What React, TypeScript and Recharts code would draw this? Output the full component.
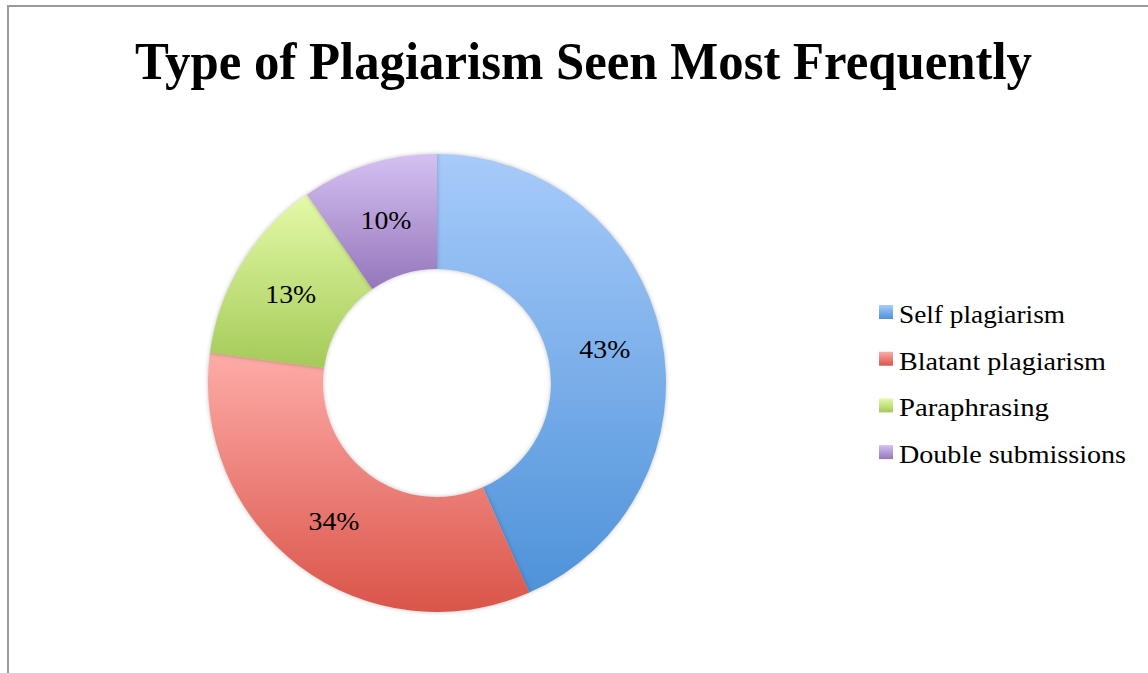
import { PieChart, Pie, Cell, Legend } from 'recharts'

const categories = ['Self plagiarism', 'Blatant plagiarism', 'Paraphrasing', 'Double submissions']
// slice sizes (labels show them rounded)
const shares = [43.4, 33.7, 13.3, 9.6]

// light top -> dark bottom, like the Excel gradient fill
const GRADIENTS = [
  { id: 'gSelf', top: '#a7cbfa', bottom: '#4e92d9' },
  { id: 'gBlatant', top: '#fdaca8', bottom: '#da5449' },
  { id: 'gPara', top: '#e4faa8', bottom: '#a5ca58' },
  { id: 'gDouble', top: '#d4c1f1', bottom: '#9576bb' },
]

const data = categories.map((name, i) => ({ name, value: shares[i] }))

const SERIF = '"Liberation Serif", "DejaVu Serif", serif'
const RAD = Math.PI / 180

const LEGEND_WIDTHS = [166, 207, 150, 227]

function renderLabel(props: any) {
  const { cx, cy, midAngle, innerRadius, outerRadius, percent } = props
  const r = (innerRadius + outerRadius) / 2
  const x = cx + r * Math.cos(-midAngle * RAD)
  const y = cy + r * Math.sin(-midAngle * RAD)
  return (
    <text
      x={x}
      y={y + 10}
      textAnchor="middle"
      fontFamily={SERIF}
      fontSize={26}
      fill="#000"
      textLength={51}
      lengthAdjust="spacingAndGlyphs"
    >
      {`${Math.round(percent * 100)}%`}
    </text>
  )
}

function LegendContent() {
  return (
    <svg width={270} height={190} style={{ display: 'block' }}>
      {categories.map((name, i) => (
        <g key={name}>
          <rect x={9} y={10 + i * 46.7} width={14} height={14} fill={`url(#${GRADIENTS[i].id})`} />
          <text
            x={29}
            y={28 + i * 46.7}
            fontFamily={SERIF}
            fontSize={25}
            fill="#000"
            textLength={LEGEND_WIDTHS[i]}
            lengthAdjust="spacingAndGlyphs"
          >
            {name}
          </text>
        </g>
      ))}
    </svg>
  )
}

export default function App() {
  return (
    <div style={{ position: 'absolute', left: 0, top: 0, width: 1148, height: 673, background: '#fff', overflow: 'hidden' }}>
      <svg width={0} height={0} style={{ position: 'absolute' }}>
        <defs>
          {GRADIENTS.map((g) => (
            <linearGradient key={g.id} id={g.id} x1="0" y1="0" x2="0" y2="1">
              <stop offset="0%" stopColor={g.top} />
              <stop offset="100%" stopColor={g.bottom} />
            </linearGradient>
          ))}
        </defs>
      </svg>
      <div style={{ position: 'absolute', left: 7, top: 5, width: 1141, height: 2, background: '#9a9a9a' }} />
      <div style={{ position: 'absolute', left: 7, top: 5, width: 2, height: 668, background: '#9a9a9a' }} />
      <svg width={1148} height={110} style={{ position: 'absolute', left: 0, top: 0 }}>
        <text
          x={583.5}
          y={79}
          textAnchor="middle"
          fontFamily={SERIF}
          fontWeight="bold"
          fontSize={52}
          fill="#000"
          textLength={897}
          lengthAdjust="spacingAndGlyphs"
        >
          Type of Plagiarism Seen Most Frequently
        </text>
      </svg>
      <div style={{ position: 'absolute', left: 0, top: 0 }}>
        <PieChart width={1148} height={673} margin={{ top: 0, right: 0, bottom: 0, left: 0 }}>
          <Pie
            data={data}
            dataKey="value"
            nameKey="name"
            cx={437}
            cy={383}
            innerRadius={114}
            outerRadius={229}
            startAngle={90}
            endAngle={-270}
            stroke="none"
            label={renderLabel}
            labelLine={false}
            isAnimationActive={false}
            style={{ filter: 'drop-shadow(0px 0px 2px rgba(0,0,0,0.25))' }}
          >
            {data.map((_, i) => (
              <Cell key={i} fill={`url(#${GRADIENTS[i].id})`} />
            ))}
          </Pie>
          <Legend
            layout="vertical"
            align="right"
            verticalAlign="middle"
            wrapperStyle={{ position: 'absolute', left: 870, top: 295, width: 270 }}
            content={() => <LegendContent />}
          />
        </PieChart>
      </div>
    </div>
  )
}
